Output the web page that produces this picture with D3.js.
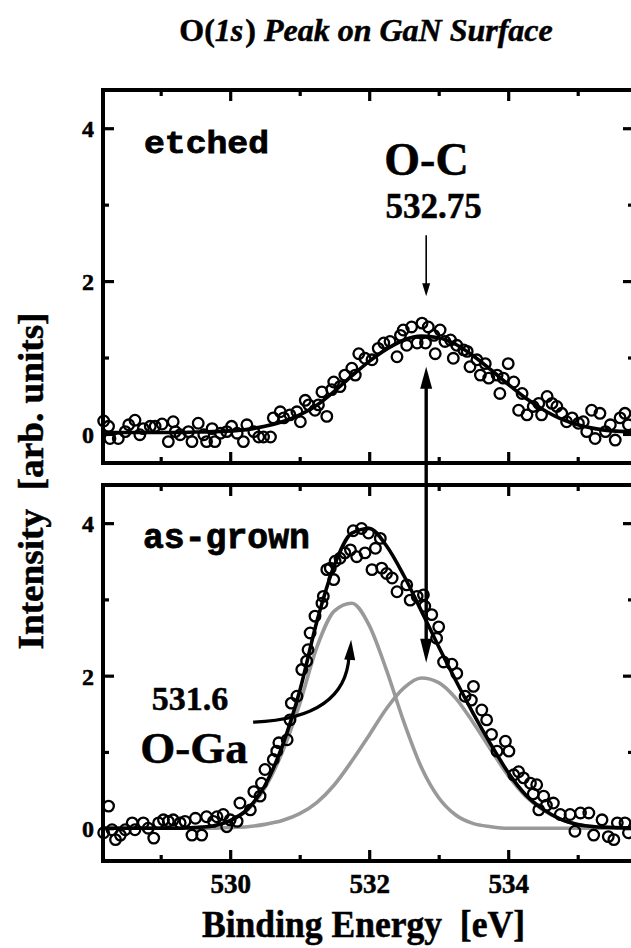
<!DOCTYPE html>
<html>
<head>
<meta charset="utf-8">
<script src="https://cdn.jsdelivr.net/npm/d3@7"></script>
<style>
  body { margin: 0; background: #fff; }
  svg { display: block; }
  text { font-family: "Liberation Serif", "Times New Roman", serif; font-weight: bold; fill: #000; stroke: #000; stroke-width: 0.5px; }
  .mono { font-family: "Liberation Mono", "Courier New", monospace; stroke-width: 0.8px; }
</style>
</head>
<body>
<div id="chart"></div>
<script>
// ticks
const xMajorTicks = [530, 532, 534];
const xMinorTicks = [529, 531, 533, 535];
const yMajorTicks = [0, 2, 4];
const yMinorTicks = [1, 3];

// fitted curves
const fitEnergy = [528.2, 528.5, 528.75, 529, 529.25, 529.5, 529.75, 530, 530.25, 530.5, 530.75,
  531, 531.25, 531.5, 531.75, 532, 532.25, 532.5, 532.75, 533, 533.25, 533.5, 533.75,
  534, 534.25, 534.5, 534.75, 535, 535.25, 535.5, 535.8];
const etchedFit = [0.02, 0.02, 0.02, 0.02, 0.02, 0.025, 0.03, 0.04, 0.06, 0.10, 0.16,
  0.25, 0.38, 0.56, 0.76, 0.95, 1.11, 1.23, 1.28, 1.26, 1.17, 1.02, 0.84,
  0.65, 0.47, 0.32, 0.20, 0.12, 0.07, 0.04, 0.03];
const grownTotal = [0, 0, 0, 0, 0, 0.01, 0.03, 0.10, 0.25, 0.56, 1.08,
  1.80, 2.72, 3.45, 3.87, 3.93, 3.70, 3.31, 2.85, 2.38, 1.93, 1.50, 1.10,
  0.73, 0.44, 0.25, 0.12, 0.05, 0.02, 0.01, 0];
const grownOGa = [0, 0, 0, 0, 0, 0.01, 0.03, 0.10, 0.24, 0.53, 1.00,
  1.63, 2.38, 2.85, 2.95, 2.66, 2.07, 1.39, 0.80, 0.40, 0.17, 0.06, 0.02,
  0, 0, 0, 0, 0, 0, 0, 0];
const grownOC = [0, 0, 0, 0, 0, 0, 0, 0.01, 0.02, 0.05, 0.10,
  0.19, 0.34, 0.57, 0.88, 1.22, 1.57, 1.84, 1.97, 1.91, 1.70, 1.38, 1.03,
  0.69, 0.42, 0.24, 0.12, 0.05, 0.02, 0.01, 0];

// measured points [energy, intensity]
const etchedPoints = [
  [528.18, 0.17], [528.25, 0.10], [528.27, -0.06], [528.39, -0.06], [528.49, 0.03], [528.54, 0.12],
  [528.63, 0.18], [528.70, -0.01], [528.75, 0.07], [528.85, 0.10], [528.92, 0.10], [529.02, 0.13],
  [529.11, -0.10], [529.18, 0.16], [529.21, 0.03], [529.28, -0.01], [529.40, 0.03], [529.45, -0.10],
  [529.54, 0.14], [529.62, -0.01], [529.66, -0.10], [529.74, 0.07], [529.78, -0.10], [529.86, 0.01],
  [529.95, 0.03], [530.02, 0.10], [530.10, 0.01], [530.19, -0.10], [530.24, 0.12], [530.34, 0.03],
  [530.41, -0.04], [530.48, -0.04], [530.58, -0.04], [530.62, 0.21], [530.72, 0.29], [530.77, 0.21],
  [530.86, 0.25], [530.96, 0.29], [531.01, 0.16], [531.08, 0.44], [531.13, 0.38], [531.22, 0.31],
  [531.27, 0.38], [531.32, 0.55], [531.39, 0.23], [531.46, 0.58], [531.49, 0.68], [531.58, 0.62],
  [531.65, 0.77], [531.75, 0.86], [531.80, 0.77], [531.85, 1.05], [531.94, 0.99], [532.04, 0.97],
  [532.13, 1.12], [532.21, 1.19], [532.30, 1.21], [532.40, 1.01], [532.45, 1.29], [532.49, 1.36],
  [532.54, 1.16], [532.61, 1.40], [532.69, 1.19], [532.76, 1.45], [532.81, 1.19], [532.85, 1.40],
  [532.93, 1.29], [532.95, 1.05], [533.02, 1.36], [533.09, 1.21], [533.17, 1.23], [533.21, 0.99],
  [533.26, 1.16], [533.36, 1.10], [533.41, 1.08], [533.45, 0.88], [533.55, 0.97], [533.60, 0.77],
  [533.67, 0.92], [533.72, 0.73], [533.84, 0.77], [533.88, 0.53], [533.93, 0.73], [534.00, 0.92],
  [534.08, 0.68], [534.15, 0.31], [534.20, 0.53], [534.27, 0.25], [534.36, 0.36], [534.44, 0.40],
  [534.48, 0.25], [534.56, 0.49], [534.63, 0.40], [534.70, 0.36], [534.77, 0.27], [534.84, 0.16],
  [534.92, 0.21], [535.01, 0.14], [535.08, 0.16], [535.13, 0.03], [535.20, 0.31], [535.25, -0.06],
  [535.32, 0.27], [535.40, 0.03], [535.47, 0.12], [535.54, -0.08], [535.61, 0.21], [535.68, 0.27],
  [535.73, 0.12]
];
const grownPoints = [
  [528.18, -0.06], [528.25, 0.29], [528.30, -0.02], [528.35, -0.15], [528.42, -0.09], [528.49, -0.02],
  [528.59, 0.07], [528.63, -0.02], [528.75, 0.07], [528.82, 0.00], [528.90, -0.13], [528.97, 0.07],
  [529.04, 0.11], [529.11, 0.09], [529.18, 0.11], [529.28, 0.07], [529.35, 0.09], [529.45, -0.09],
  [529.50, 0.13], [529.59, -0.09], [529.66, 0.15], [529.76, 0.09], [529.81, 0.15], [529.90, 0.18],
  [529.95, 0.02], [530.00, 0.11], [530.10, 0.09], [530.14, 0.33], [530.29, 0.24], [530.34, 0.48],
  [530.43, 0.42], [530.45, 0.59], [530.50, 0.77], [530.62, 0.90], [530.67, 1.01], [530.70, 1.12],
  [530.82, 1.16], [530.86, 1.42], [530.88, 1.64], [530.96, 1.73], [531.03, 2.08], [531.10, 2.19],
  [531.12, 2.34], [531.15, 2.56], [531.22, 2.78], [531.32, 2.95], [531.34, 3.04], [531.39, 3.39],
  [531.44, 3.41], [531.49, 3.26], [531.51, 3.50], [531.58, 3.54], [531.65, 3.61], [531.73, 3.65],
  [531.77, 3.90], [531.82, 3.56], [531.89, 3.93], [531.94, 3.61], [531.99, 3.87], [532.04, 3.39],
  [532.09, 3.67], [532.16, 3.80], [532.18, 3.41], [532.25, 3.34], [532.33, 3.28], [532.40, 3.10],
  [532.54, 3.19], [532.59, 2.99], [532.69, 3.04], [532.78, 3.06], [532.80, 2.91], [532.90, 2.80],
  [532.97, 2.49], [533.00, 2.64], [533.07, 2.18], [533.19, 2.15], [533.26, 2.03], [533.38, 1.73],
  [533.47, 1.68], [533.50, 1.86], [533.62, 1.55], [533.69, 1.42], [533.76, 1.23], [533.84, 1.01],
  [533.96, 1.14], [534.01, 1.01], [534.08, 0.70], [534.15, 0.74], [534.22, 0.66], [534.32, 0.59],
  [534.36, 0.45], [534.41, 0.57], [534.44, 0.24], [534.51, 0.42], [534.55, 0.30], [534.65, 0.33],
  [534.75, 0.18], [534.89, 0.18], [534.96, -0.04], [535.04, 0.20], [535.16, 0.20], [535.23, -0.09],
  [535.35, 0.11], [535.44, -0.11], [535.52, -0.15], [535.57, 0.07], [535.68, 0.07], [535.73, -0.06]
];

const W = 631, H = 948;
const x = d3.scaleLinear().domain([528.17, 535.81]).range([103, 634]);
const yTop = d3.scaleLinear().domain([-0.38, 4.5]).range([463, 90]);
const yBot = d3.scaleLinear().domain([-0.43, 4.5]).range([861, 485]);

const svg = d3.select("#chart").append("svg")
    .attr("width", W)
    .attr("height", H);

function styleAxis(g) {
    g.select(".domain").remove();
    g.selectAll("line").attr("stroke", "#000").attr("stroke-width", 3.2);
    g.attr("font-family", null).attr("font-size", null);
}

function drawFrame(y, bottomLabels) {
    const [x0, x1] = x.range();
    const [y1, y0] = y.range();
    const g = svg.append("g");

    [[xMajorTicks, 11], [xMinorTicks, 6]].forEach(([vals, len]) => {
        g.append("g").attr("transform", `translate(0,${y1})`)
            .call(d3.axisBottom(x).tickValues(vals).tickSize(-len).tickFormat(""))
            .call(styleAxis);
        g.append("g").attr("transform", `translate(0,${y0})`)
            .call(d3.axisTop(x).tickValues(vals).tickSize(-len).tickFormat(""))
            .call(styleAxis);
    });
    [[yMajorTicks, 11], [yMinorTicks, 6]].forEach(([vals, len]) => {
        g.append("g").attr("transform", `translate(${x0},0)`)
            .call(d3.axisLeft(y).tickValues(vals).tickSize(-len).tickFormat(""))
            .call(styleAxis);
        g.append("g").attr("transform", `translate(${x1},0)`)
            .call(d3.axisRight(y).tickValues(vals).tickSize(-len).tickFormat(""))
            .call(styleAxis);
    });

    // y labels
    g.append("g").attr("transform", `translate(${x0},0)`)
        .call(d3.axisLeft(y).tickValues(yMajorTicks).tickSize(0).tickFormat(d3.format("d")))
        .call(styleAxis)
        .selectAll("text")
        .attr("x", -9).attr("dy", null)
        .attr("transform", "translate(0,8.5)")
        .style("font-size", "24px");

    if (bottomLabels) {
        g.append("g").attr("transform", `translate(0,${y1})`)
            .call(d3.axisBottom(x).tickValues(xMajorTicks).tickSize(0).tickFormat(d3.format("d")))
            .call(styleAxis)
            .selectAll("text")
            .attr("y", 32).attr("dy", null)
            .style("font-size", "27px");
    }

    g.append("rect")
        .attr("x", x0).attr("y", y0)
        .attr("width", x1 - x0).attr("height", y1 - y0)
        .attr("fill", "none")
        .attr("stroke", "#000")
        .attr("stroke-width", 4);
}

function drawPoints(pts, y) {
    svg.append("g")
        .selectAll("circle")
        .data(pts)
        .join("circle")
        .attr("cx", d => x(d[0]))
        .attr("cy", d => y(d[1]))
        .attr("r", 5.3)
        .attr("fill", "none")
        .attr("stroke", "#000")
        .attr("stroke-width", 2.3);
}

function drawCurve(vals, y, color) {
    const line = d3.line()
        .x((d, i) => x(fitEnergy[i]))
        .y(d => y(d))
        .curve(d3.curveMonotoneX);
    svg.append("path")
        .attr("d", line(vals))
        .attr("fill", "none")
        .attr("stroke", color)
        .attr("stroke-width", 3.6)
        .attr("stroke-linejoin", "round");
}

function arrowHead(tip, from, len, width) {
    const dx = tip[0] - from[0], dy = tip[1] - from[1];
    const l = Math.sqrt(dx * dx + dy * dy);
    const ux = dx / l, uy = dy / l;
    const bx = tip[0] - ux * len, by = tip[1] - uy * len;
    const px = -uy * width / 2, py = ux * width / 2;
    svg.append("path")
        .attr("d", `M${tip[0]},${tip[1]}L${bx + px},${by + py}L${bx - px},${by - py}Z`)
        .attr("fill", "#000");
}

// title (one text, italic parts as tspans)
const title = svg.append("text")
    .attr("x", 366).attr("y", 41)
    .attr("text-anchor", "middle")
    .style("font-size", "32px")
    .style("white-space", "pre");
title.append("tspan").text("O(");
title.append("tspan").style("font-style", "italic").text("1s");
title.append("tspan").attr("dx", 2).text(") ");
title.append("tspan").style("font-style", "italic").text("Peak on GaN Surface");

// panels
drawFrame(yTop, false);
drawFrame(yBot, true);

drawPoints(etchedPoints, yTop);
drawCurve(etchedFit, yTop, "#000");

drawCurve(grownOGa, yBot, "#999");
drawCurve(grownOC, yBot, "#999");
drawPoints(grownPoints, yBot);
drawCurve(grownTotal, yBot, "#000");

// axis titles
svg.append("text")
    .attr("x", 363.5).attr("y", 937)
    .attr("text-anchor", "middle")
    .attr("textLength", 323)
    .attr("lengthAdjust", "spacingAndGlyphs")
    .style("font-size", "37px")
    .style("white-space", "pre")
    .text("Binding Energy  [eV]");

svg.append("text")
    .attr("transform", "translate(43,481) rotate(-90)")
    .attr("text-anchor", "middle")
    .attr("textLength", 337)
    .attr("lengthAdjust", "spacingAndGlyphs")
    .style("font-size", "36px")
    .style("white-space", "pre")
    .text("Intensity  [arb. units]");

// panel labels
svg.append("text").attr("class", "mono")
    .attr("x", 144).attr("y", 153)
    .attr("textLength", 125).attr("lengthAdjust", "spacingAndGlyphs")
    .style("font-size", "31px")
    .text("etched");
svg.append("text").attr("class", "mono")
    .attr("x", 143).attr("y", 548)
    .attr("textLength", 167).attr("lengthAdjust", "spacingAndGlyphs")
    .style("font-size", "35px")
    .text("as-grown");

// O-C annotation
const peakOC = 532.82;
svg.append("text")
    .attr("x", 426.5).attr("y", 175)
    .attr("text-anchor", "middle")
    .style("font-size", "46px")
    .text("O-C");
svg.append("text")
    .attr("x", 433.5).attr("y", 218)
    .attr("text-anchor", "middle")
    .style("font-size", "35px")
    .text("532.75");
svg.append("line")
    .attr("x1", x(peakOC)).attr("x2", x(peakOC))
    .attr("y1", yTop(2.6)).attr("y2", yTop(1.95))
    .attr("stroke", "#000").attr("stroke-width", 1.6);
arrowHead([x(peakOC), yTop(1.8)], [x(peakOC), yTop(2.6)], 13, 8);

// double arrow between panels
const topTip = [x(peakOC), yTop(0.88)];
const botTip = [x(peakOC), yBot(2.17)];
svg.append("line")
    .attr("x1", topTip[0]).attr("x2", botTip[0])
    .attr("y1", topTip[1] + 15).attr("y2", botTip[1] - 15)
    .attr("stroke", "#000").attr("stroke-width", 3.4);
arrowHead(topTip, botTip, 22, 12);
arrowHead(botTip, topTip, 24, 12);

// O-Ga annotation
svg.append("text")
    .attr("x", 190).attr("y", 710)
    .attr("text-anchor", "middle")
    .style("font-size", "34px")
    .text("531.6");
svg.append("text")
    .attr("x", 194).attr("y", 763)
    .attr("text-anchor", "middle")
    .style("font-size", "45px")
    .text("O-Ga");

const cStart = [x(530.33), yBot(1.39)];
const cCtrl = [x(531.66), yBot(1.44)];
const cEnd = [x(531.71), yBot(2.26)];
const cTip = [x(531.74), yBot(2.47)];
svg.append("path")
    .attr("d", `M${cStart}Q${cCtrl} ${cEnd}`)
    .attr("fill", "none")
    .attr("stroke", "#000")
    .attr("stroke-width", 3.2);
arrowHead(cTip, cCtrl, 20, 11);
</script>
</body>
</html>
